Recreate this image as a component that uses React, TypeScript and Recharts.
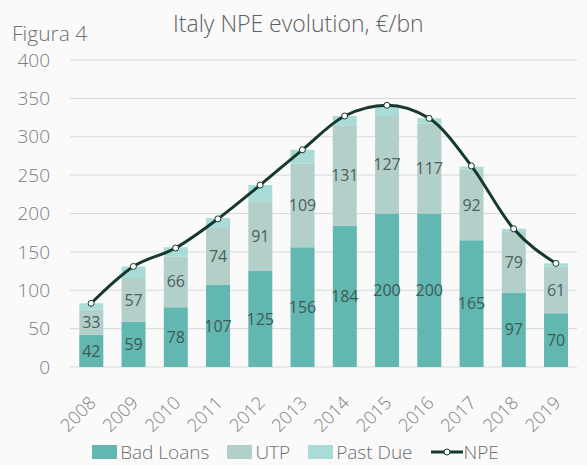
import React from 'react'
import {
  ComposedChart,
  Bar,
  Line,
  XAxis,
  YAxis,
  CartesianGrid,
  LabelList,
  Legend,
} from 'recharts'

const years = ['2008', '2009', '2010', '2011', '2012', '2013', '2014', '2015', '2016', '2017', '2018', '2019']
const badLoans = [42, 59, 78, 107, 125, 156, 184, 200, 200, 165, 97, 70]
const utp = [33, 57, 66, 74, 91, 109, 131, 127, 117, 92, 79, 61]
const pastDue = [8, 15, 12, 13, 21, 18, 12, 14, 7, 4, 4, 4]
const npe = [83, 131, 155, 193, 237, 283, 327, 341, 324, 262, 180, 135]
const yTicks = [0, 50, 100, 150, 200, 250, 300, 350, 400]

const FONT = '"Open Sans", "Noto Sans", sans-serif'
const BAD = '#62b8b1'
const UTP_C = '#b2cfc9'
const PAST = '#a9dcd7'
const LINE = '#17382c'
const TEXT = '#7d7d7d'

const data = years.map((y, i) => ({
  year: y,
  bad: badLoans[i],
  utp: utp[i],
  past: pastDue[i],
  npe: npe[i],
}))

const XTick = (props: any) => {
  const { x, y, payload } = props
  const tx = x + 1
  const ty = y + 24
  return (
    <text
      x={tx}
      y={ty}
      transform={`rotate(-45, ${tx}, ${ty})`}
      textAnchor="end"
      dominantBaseline="central"
      fill={TEXT}
      fontSize={18}
      fontFamily={FONT}
      fontWeight={300}
    >
      {payload.value}
    </text>
  )
}

const legendItems = [
  { label: 'Bad Loans', color: BAD, type: 'rect' },
  { label: 'UTP', color: UTP_C, type: 'rect' },
  { label: 'Past Due', color: PAST, type: 'rect' },
  { label: 'NPE', color: LINE, type: 'line' },
]

const renderLegend = () => (
  <div
    style={{
      display: 'flex',
      justifyContent: 'center',
      alignItems: 'center',
      gap: 18,
      fontFamily: FONT,
      fontWeight: 300,
      fontSize: 19,
      color: '#6e6e6e',
      paddingLeft: 14,
      paddingBottom: 0,
    }}
  >
    {legendItems.map((it) => (
      <div key={it.label} style={{ display: 'flex', alignItems: 'center' }}>
        {it.type === 'rect' ? (
          <svg width={25} height={14} style={{ marginRight: 3 }}>
            <rect width={25} height={14} fill={it.color} />
          </svg>
        ) : (
          <svg width={32} height={14} style={{ marginRight: 1 }}>
            <line x1={0} y1={7} x2={32} y2={7} stroke={it.color} strokeWidth={3} />
            <circle cx={16} cy={7} r={3} fill="#fff" stroke={it.color} strokeWidth={1} />
          </svg>
        )}
        <span>{it.label}</span>
      </div>
    ))}
  </div>
)

export default function App() {
  return (
    <div style={{ width: 587, height: 465, position: 'relative', background: '#fafafa', fontFamily: FONT }}>
      <style>{'body{margin:0}'}</style>
      <div
        style={{
          position: 'absolute',
          left: 173,
          top: 7,
          fontSize: 23,
          fontWeight: 300,
          color: '#606060',
          whiteSpace: 'nowrap',
        }}
      >
        Italy NPE evolution, €/bn
      </div>
      <div
        style={{
          position: 'absolute',
          left: 12,
          top: 19,
          fontSize: 21,
          fontWeight: 300,
          color: '#707070',
        }}
      >
        Figura 4
      </div>
      <ComposedChart
        width={587}
        height={465}
        data={data}
        margin={{ top: 60, right: 10, bottom: 0, left: 0 }}
        barCategoryGap="22%"
      >
        <CartesianGrid vertical={false} stroke="#d9d9d9" strokeWidth={1} />
        <XAxis
          dataKey="year"
          axisLine={false}
          tickLine={false}
          tick={<XTick />}
          height={72}
          interval={0}
        />
        <YAxis
          width={70}
          domain={[0, 400]}
          ticks={yTicks}
          axisLine={false}
          tickLine={false}
          tickSize={0}
          tickMargin={20}
          tick={{ fill: TEXT, fontSize: 19, fontFamily: FONT, fontWeight: 300 }}
        />
        <Legend verticalAlign="bottom" content={renderLegend} />
        <Bar dataKey="bad" stackId="a" fill={BAD} isAnimationActive={false}>
          <LabelList dataKey="bad" position="center" fill="#3e5a55" fontSize={16} fontFamily={FONT} />
        </Bar>
        <Bar dataKey="utp" stackId="a" fill={UTP_C} isAnimationActive={false}>
          <LabelList dataKey="utp" position="center" fill="#4d5f5b" fontSize={16} fontFamily={FONT} />
        </Bar>
        <Bar dataKey="past" stackId="a" fill={PAST} isAnimationActive={false} />
        <Line
          type="monotone"
          dataKey="npe"
          stroke={LINE}
          strokeWidth={3}
          dot={{ r: 3, fill: '#fff', stroke: LINE, strokeWidth: 1 }}
          activeDot={false}
          isAnimationActive={false}
        />
      </ComposedChart>
    </div>
  )
}
